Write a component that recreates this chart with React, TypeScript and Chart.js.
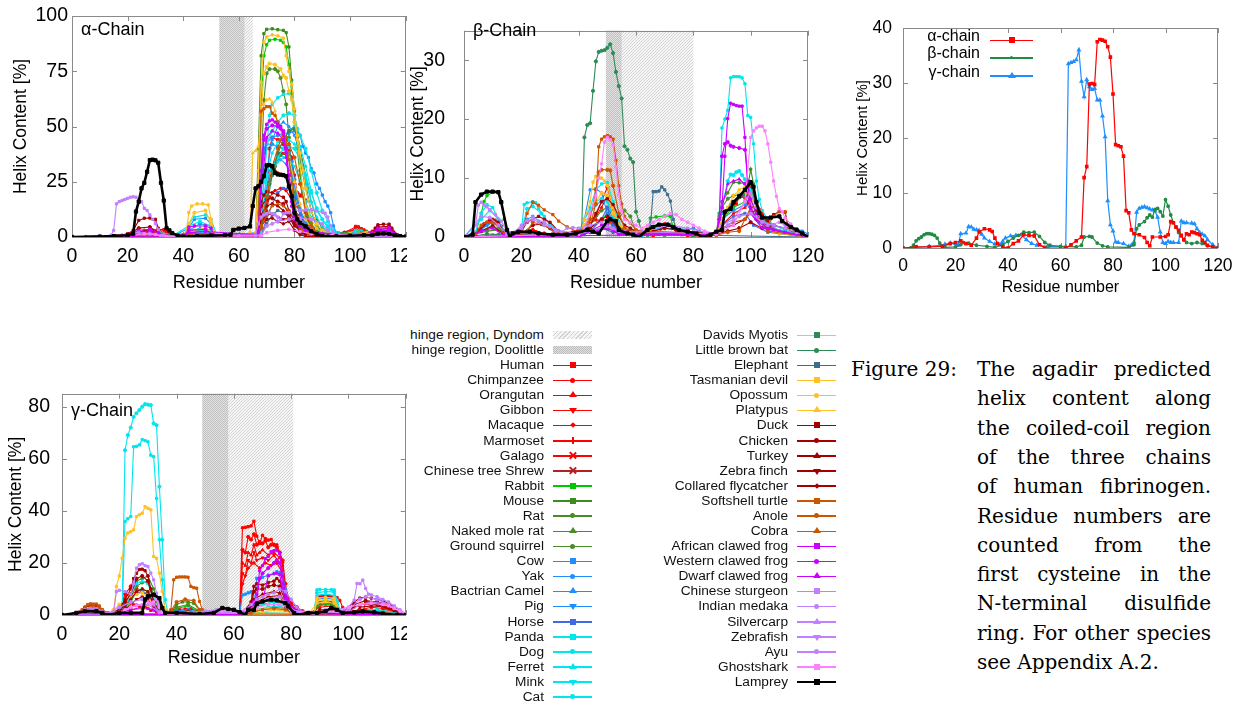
import React, { useEffect, useRef } from 'react';
import { Chart, registerables } from 'chart.js';
Chart.register(...registerables);

type Pt = [number, number];

// ---------------- Species, colours, markers ----------------
const speciesNames = [
  'Human', 'Chimpanzee', 'Orangutan', 'Gibbon', 'Macaque', 'Marmoset', 'Galago', 'Chinese tree Shrew',
  'Rabbit', 'Mouse', 'Rat', 'Naked mole rat', 'Ground squirrel', 'Cow', 'Yak', 'Bactrian Camel', 'Pig',
  'Horse', 'Panda', 'Dog', 'Ferret', 'Mink', 'Cat',
  'Davids Myotis', 'Little brown bat', 'Elephant', 'Tasmanian devil', 'Opossum', 'Platypus', 'Duck',
  'Chicken', 'Turkey', 'Zebra finch', 'Collared flycatcher', 'Softshell turtle', 'Anole', 'Cobra',
  'African clawed frog', 'Western clawed frog', 'Dwarf clawed frog', 'Chinese sturgeon', 'Indian medaka',
  'Silvercarp', 'Zebrafish', 'Ayu', 'Ghostshark', 'Lamprey',
];
const speciesColors = [
  '#ff0000', '#ff0000', '#ff0000', '#ff0000', '#ff0000', '#ff0000', '#ff0000', '#b22222',
  '#00c800', '#3c8c1e', '#4a8c2a', '#4a8c2a', '#4a8c2a', '#1e8fff', '#1e8fff', '#1e8fff', '#1e8fff',
  '#4169e1', '#00e5ee', '#00e5ee', '#00e5ee', '#00e5ee', '#00e5ee',
  '#2e8b57', '#2e8b57', '#3c6e8e', '#ffc125', '#ffc125', '#ffc125', '#a50000',
  '#a50000', '#a50000', '#a50000', '#a50000', '#cc5500', '#cc5500', '#cc5500',
  '#cc00ff', '#cc00ff', '#cc00ff', '#c080ff', '#c080ff',
  '#c080ff', '#c080ff', '#c080ff', '#ff80ff', '#000000',
];
const speciesLineColors = speciesColors.map((c, i) => (speciesNames[i] === 'Davids Myotis' ? '#9fd4b4' : c));
const speciesMarkers = [
  'rect', 'circle', 'triangle', 'triangleDown', 'rectRot', 'cross', 'crossRot', 'crossRot',
  'rect', 'rect', 'circle', 'triangle', 'circle', 'rect', 'circle', 'triangle', 'triangleDown',
  'rect', 'rect', 'circle', 'triangle', 'triangleDown', 'circle',
  'rect', 'circle', 'rect', 'rect', 'circle', 'triangle', 'rect',
  'circle', 'triangle', 'triangleDown', 'rectRot', 'rect', 'circle', 'triangle',
  'rect', 'circle', 'triangle', 'rect', 'circle',
  'triangle', 'triangleDown', 'circle', 'rect', 'rect',
];

// ---------------- Hinge regions (residue ranges) ----------------
const alphaHingeDyndom = [53, 65];
const alphaHingeDoolittle = [53, 62];
const betaHingeDyndom = [49.5, 80];
const betaHingeDoolittle = [49.5, 55];
const gammaHingeDyndom = [49, 80.7];
const gammaHingeDoolittle = [49, 58];

// ---------------- Human (also used in the combined panel) ----------------
const humanAlpha: Pt[] = [[0,0],[5,0.2],[10,0.2],[15,0.3],[18,0.8],[20,1.0],[22,1.3],[24,0.8],[26,0.5],[28,1.8],[29,2.9],[31,3.5],[33,3.3],[34,3.0],[35,1.8],[36,0.8],[38,0.2],[40,0],[42,0.8],[44,1.3],[46,2.4],[48,2.3],[50,2.2],[52,0.6],[54,0],[62,0],[64,0.6],[66,1.3],[68,2.0],[69,12.8],[70,14.8],[71,29.8],[72,29.9],[73,29.7],[74,37.5],[75,37.9],[76,37.8],[77,37.6],[78,36.6],[79,34.7],[80,28],[81,18.8],[82,18.6],[83,18.4],[84,16.7],[85,6.8],[86,6.4],[87,3.3],[88,2.6],[90,2.4],[92,1.9],[93,1.0],[94,0.4],[95,2.0],[98,2.0],[100,2.1],[101,2.4],[102,4.8],[103,4.6],[104,3.8],[105,3.2],[106,2.3],[107,1.5],[108,2.6],[109,2.4],[110,2.9],[111,2.8],[112,2.6],[113,2.4],[114,1.4],[115,1.0],[116,0.5],[118,0.2],[120,0]];
const humanBeta: Pt[] = [[0,0],[3,0],[4,0.5],[5,1.3],[6,1.7],[7,2.0],[8,2.4],[9,2.6],[10,2.6],[11,2.5],[12,2.3],[13,1.8],[14,0.9],[15,0.3],[16,0.1],[20,0.2],[22,0.6],[23,1.0],[25,0.9],[28,0.5],[32,0.3],[35,0.1],[38,0.6],[40,1.2],[42,1.8],[44,2.3],[46,2.9],[48,2.8],[50,2.9],[52,2.1],[54,1.0],[56,0.5],[60,0.3],[66,0.2],[68,0.5],[69,2.0],[71,2.1],[72,2.0],[74,0.9],[76,0.4],[78,0.2],[86,0.1],[88,0.6],[89,3.5],[90,4.2],[92,4.8],[93,5.5],[94,6.0],[95,5.6],[96,7.0],[97,7.2],[98,6.6],[99,5.8],[100,8.8],[101,7.6],[102,6.0],[103,4.6],[104,3.8],[105,2.8],[106,2.2],[107,1.5],[108,1.0],[110,0.8],[112,1.0],[114,0.8],[116,0.4],[118,0.1],[120,0]];
const humanGamma: Pt[] = [[0,0],[5,0.1],[10,0.3],[14,0.5],[16,0.7],[18,0.9],[20,0.8],[21,0.5],[22,2.6],[24,2.7],[25,3.9],[26,3.8],[27,3.4],[28,3.3],[29,3.2],[30,2.5],[31,1.8],[33,1.2],[35,0.7],[37,0.6],[38,1.2],[39,1.8],[41,2.2],[43,2.3],[45,2.4],[47,1.5],[49,0.8],[51,0.5],[55,0.3],[62,0.3],[63,33.5],[64,33.7],[65,33.9],[66,34.2],[67,36],[68,30.3],[69,27.5],[70,30.6],[71,29.3],[72,28.8],[73,29],[74,26.9],[75,26.9],[76,24],[77,20.2],[78,8.6],[79,4.2],[80,3.1],[81,1.1],[82,1.0],[84,0.8],[86,0.3],[87,0.5],[88,1.1],[89,6.5],[90,7.2],[91,7.4],[92,7.5],[93,7.3],[94,7.1],[95,6.9],[96,6.7],[97,5.6],[98,2.9],[99,1.0],[100,0.8],[101,1.2],[102,1.0],[103,1.0],[105,1.0],[106,4.9],[107,4.6],[108,4.6],[110,4.5],[111,4.4],[112,3.5],[113,2.8],[114,2.5],[115,2.2],[116,1.5],[118,0.6],[120,0]];

// ---------------- Alpha chain ----------------
const aChimp: Pt[] = [[0,0],[20,0.8],[24,1.2],[28,2.5],[31,3.2],[34,2.8],[36,0.8],[40,0.2],[43,1.2],[46,2.2],[50,2],[53,0.4],[63,0.2],[66,1.2],[68,2.2],[69,14],[70,18],[71,40],[72,45],[74,44],[76,42],[77,41],[78,39],[79,36],[80,24],[81,20],[83,19],[84,16],[85,7],[87,3],[90,2],[94,0.5],[98,2],[102,4.5],[106,2.2],[110,3],[114,1.5],[118,0.3],[120,0]];
const aOrangutan: Pt[] = [[0,0],[20,0.6],[26,0.8],[30,2.5],[34,2.4],[37,0.5],[44,1],[48,1.8],[52,0.4],[66,1],[68,1.8],[69,10],[70,12],[71,26],[72,28],[74,29],[76,28],[78,26],[79,20],[80,14],[82,13],[84,11],[85,5],[88,2],[92,1.5],[96,1.8],[102,3.5],[106,2],[110,2.4],[116,0.5],[120,0]];
const aMacaque: Pt[] = [[0,0],[24,0.6],[30,2],[34,1.8],[37,0.3],[46,1.5],[52,0.3],[67,1],[69,8],[71,18],[73,21],[75,22],[77,21],[79,17],[81,10],[83,8],[85,3],[90,1],[102,2.5],[110,2],[120,0]];
const aRabbit: Pt[] = [[0,0],[20,0.4],[26,1.2],[30,0.6],[36,0.2],[42,2],[46,3],[49,2.5],[52,0.4],[64,0.5],[67,2],[68,60],[69,82],[70,87],[71,89],[73,89.5],[75,89],[76,88],[77,86],[78,78],[79,65],[80,52],[81,40],[82,28],[84,14],[86,6],[88,3],[92,1.5],[100,2],[104,3],[108,1.5],[112,2],[116,0.6],[120,0]];
const aMouse: Pt[] = [[0,0],[10,0.2],[20,0.5],[25,1.0],[30,0.8],[35,0.3],[42,1.5],[45,2.5],[48,2.2],[52,0.5],[60,0.3],[64,0.6],[66,1.5],[67,40],[68,82],[69,92],[70,94],[72,94.2],[74,93.8],[76,93.5],[77,92.5],[78,86],[79,71],[80,57],[81,44],[82,30],[83,20],[84,9],[86,4],[88,2],[92,1],[96,0.8],[100,1.5],[104,2],[108,1.2],[112,2.4],[116,0.8],[120,0]];
const aRat: Pt[] = [[0,0],[22,0.6],[28,1],[34,0.4],[42,1.8],[47,2.6],[52,0.4],[66,1.2],[68,30],[69,62],[70,74],[71,76],[73,76],[74,75],[75,72],[76,66],[77,60],[78,45],[79,30],[80,17],[81,8],[83,4],[86,2],[90,1.2],[100,1.5],[104,2.5],[110,1.5],[116,0.4],[120,0]];
const aNakedMoleRat: Pt[] = [[0,0],[24,0.8],[30,1.2],[36,0.2],[44,2],[50,1.5],[54,0.3],[66,1],[68,8],[70,20],[72,30],[74,38],[76,44],[78,48],[80,50],[81,47],[82,40],[84,28],[86,16],[88,8],[90,4],[92,2],[100,1.8],[106,2.6],[112,1.4],[120,0]];
const aGroundSquirrel: Pt[] = [[0,0],[24,0.5],[30,0.8],[44,1.2],[48,1.5],[52,0.3],[67,1],[69,12],[71,24],[73,32],[75,37],[77,38],[78,36],[79,28],[80,20],[82,12],[84,6],[86,3],[90,1],[104,2],[112,1],[120,0]];
const aCow: Pt[] = [[0,0],[20,0.4],[28,0.8],[36,0.2],[42,4],[44,8],[48,8.5],[50,6],[52,0.8],[64,0.5],[67,1.5],[68,25],[69,40],[70,43],[72,45],[74,46],[76,47],[78,47],[80,48],[81,47],[82,46],[83,41],[84,38],[85,36],[86,31],[87,29],[88,24],[89,22],[90,19],[91,16],[92,14],[93,11],[94,5],[95,2],[98,1],[102,2],[108,1.5],[112,2.2],[116,0.5],[120,0]];
const aYak: Pt[] = [[0,0],[24,0.5],[40,0.3],[42,3],[46,6],[50,5],[52,0.5],[67,1],[68,20],[69,38],[70,42],[72,42],[74,41],[76,40],[78,38],[79,34],[80,26],[81,18],[82,12],[84,6],[86,3],[90,1],[104,1.5],[120,0]];
const aCamel: Pt[] = [[0,0],[40,0.2],[42,2],[46,4],[50,3],[53,0.4],[68,2],[70,30],[72,44],[74,50],[76,52],[78,50],[80,46],[82,38],[84,24],[86,12],[88,5],[90,2],[96,0.8],[104,1.8],[120,0]];
const aPig: Pt[] = [[0,0],[42,0.2],[44,1.5],[48,2],[52,0.3],[68,2],[69,15],[71,30],[73,34],[75,35],[77,33],[79,28],[81,18],[83,9],[85,4],[88,1.5],[100,1],[120,0]];
const aHorse: Pt[] = [[0,0],[42,0.2],[44,1],[50,1],[68,1],[70,8],[72,15],[74,20],[76,22],[78,22],[80,18],[82,10],[84,4],[87,1.5],[100,1],[120,0]];
const aPanda: Pt[] = [[0,0],[20,0.6],[28,1.5],[32,2],[34,0.8],[40,0.2],[42,6],[44,9],[48,10],[50,8],[52,1],[66,0.5],[68,10],[70,40],[71,55],[72,60],[74,63],[76,64.5],[78,65],[79,63],[80,50],[82,41],[84,32],[86,21],[88,12],[90,8],[92,5],[94,2],[98,1],[102,3],[106,1.5],[112,2],[120,0]];
const aDog: Pt[] = [[0,0],[26,0.8],[32,2.2],[36,0.5],[42,5],[46,7],[50,5],[52,0.6],[67,1],[69,25],[70,42],[72,48],[74,52],[76,55],[78,56],[80,55],[81,49],[82,46],[84,40],[86,30],[88,20],[90,12],[92,7],[94,3],[98,1],[104,2.5],[110,1.5],[120,0]];
const aFerret: Pt[] = [[0,0],[40,0.3],[42,3],[48,4],[52,0.5],[68,2],[70,28],[72,38],[74,43],[76,45],[78,44],[80,42],[82,36],[84,26],[86,16],[88,9],[90,5],[92,2],[100,1],[120,0]];
const aMink: Pt[] = [[0,0],[42,0.2],[44,2],[50,2],[68,1],[70,20],[72,30],[74,34],[76,36],[78,35],[80,32],[82,25],[84,16],[86,9],[89,4],[92,1],[120,0]];
const aCat: Pt[] = [[0,0],[40,0.3],[42,2.5],[48,3],[52,0.4],[68,1.5],[70,26],[72,32],[74,36],[76,40],[78,41],[80,40],[82,35],[84,28],[86,20],[88,13],[90,8],[92,4],[95,1],[120,0]];
const aBat: Pt[] = [[0,0],[24,0.4],[44,1.5],[50,1.2],[66,0.6],[68,4],[70,14],[72,28],[74,38],[76,44],[78,48],[80,49],[81,45],[82,35],[84,22],[86,12],[88,5],[90,2],[96,1],[104,1.8],[120,0]];
const aElephant: Pt[] = [[0,0],[40,0.2],[44,1],[50,1],[68,0.5],[70,6],[72,10],[74,12],[76,11],[78,9],[80,5],[83,1.5],[90,0.5],[120,0]];
const aTasDevil: Pt[] = [[0,0],[24,0.5],[30,0.8],[36,0.2],[41,1],[42,11],[43,14],[45,15],[47,15],[49,14.5],[50,8],[51,2],[54,0.5],[64,0.5],[66,2],[67,30],[68,70],[69,88],[70,90.5],[72,91.5],[74,91],[76,90],[77,82],[78,75],[79,69],[80,58],[81,44],[82,32],[83,22],[84,14],[86,8],[88,4],[90,2],[94,1],[100,1.5],[106,2],[112,2.2],[116,0.6],[120,0]];
const aOpossum: Pt[] = [[0,0],[26,0.6],[34,0.5],[40,0.4],[42,6],[44,11],[48,12],[50,6],[52,0.8],[66,1.5],[67,20],[68,55],[69,74],[70,77],[71,78.5],[73,78],[75,76],[76,73],[77,72],[78,66],[79,62],[80,52],[81,46],[82,38],[83,30],[84,22],[86,12],[88,6],[90,3],[94,1],[104,1.5],[120,0]];
const aPlatypus: Pt[] = [[0,0],[40,0.3],[44,3],[48,4],[52,0.6],[62,0.6],[64,2],[65,38],[66,39],[67,41],[68,52],[69,60],[70,62],[71,62.5],[72,61],[73,57],[74,52],[76,45],[78,36],[80,25],[82,15],[84,8],[86,4],[88,2],[92,1],[100,1],[120,0]];
const aDuck: Pt[] = [[0,0],[16,0.5],[20,1.5],[22,3],[24,7.5],[26,8.5],[28,8.6],[30,8],[31,4],[33,1],[36,0.3],[44,1],[50,0.8],[66,0.5],[67,4],[68,16],[69,19],[70,20.5],[72,20],[74,19],[76,18],[77,16],[78,12],[80,7],[82,4],[84,2],[88,1],[96,0.6],[104,1.2],[108,2],[109,4],[110,5.5],[112,5.8],[114,5.8],[115,4],[117,1],[120,0]];
const aChicken: Pt[] = [[0,0],[20,1],[24,4],[28,4.5],[31,2],[34,0.4],[66,0.5],[67,3],[68,14],[70,17],[72,17.5],[74,16],[76,15],[78,10],[80,6],[82,3],[86,1],[108,1.5],[110,4.5],[114,4.8],[116,1.5],[120,0]];
const aTurkey: Pt[] = [[0,0],[22,0.8],[26,3],[30,2.5],[33,0.5],[67,1],[68,10],[70,14],[72,15],[74,14],[76,12],[78,9],[80,5],[83,2],[88,0.5],[108,0.5],[110,3.5],[114,3.8],[117,0.8],[120,0]];
const aZebraFinch: Pt[] = [[0,0],[22,0.3],[24,2],[28,2.5],[32,0.5],[67,0.8],[68,7],[70,10],[72,10.5],[74,9],[76,8],[78,8.5],[80,7],[82,3],[84,1],[90,0.2],[108,0.3],[110,2.5],[114,2.8],[117,0.5],[120,0]];
const aFlycatcher: Pt[] = [[0,0],[66,0.3],[68,5],[70,8],[72,8.5],[74,7],[76,6],[78,7],[80,3],[82,1],[84,0.3],[120,0]];
const aSoftshell: Pt[] = [[0,0],[20,0.6],[24,1.5],[28,1.2],[32,0.4],[44,1.5],[50,1.2],[66,0.5],[67,6],[68,57],[69,58],[70,59],[71,59],[72,56],[73,55],[74,52],[75,50],[76,46],[77,44],[78,35],[79,24],[80,14],[81,6.5],[83,3],[86,1.5],[90,0.6],[100,1],[110,1.5],[120,0]];
const aAnole: Pt[] = [[0,0],[44,1],[50,1],[66,0.5],[68,5],[70,18],[72,32],[74,40],[75,44],[76,46],[77,45],[78,42],[80,36],[82,24],[84,12],[86,5],[88,2],[94,0.5],[120,0]];
const aCobra: Pt[] = [[0,0],[66,0.4],[68,4],[70,10],[72,14],[74,15],[76,14],[78,12],[80,8],[82,4],[85,1],[120,0]];
const aXenLaevis: Pt[] = [[0,0],[20,1],[24,3],[28,3.5],[31,2],[34,0.4],[41,1],[42,4.5],[44,5],[48,5],[50,4],[51,1],[54,0.5],[66,0.5],[67,2],[68,30],[69,46],[70,51],[71,52.5],[72,53],[73,52],[74,51],[75,50],[76,47],[77,38],[78,24],[79,14],[80,8],[82,5],[84,3],[88,1.5],[92,1],[96,0.8],[104,1.2],[108,2],[110,4],[114,4.2],[116,1.5],[120,0]];
const aXenTrop: Pt[] = [[0,0],[22,0.3],[24,2],[28,2.5],[32,0.5],[40,0.3],[42,3],[48,3.5],[51,0.5],[67,1.5],[68,25],[69,44],[70,49],[72,50.5],[74,50],[75,49],[76,48],[77,40],[78,28],[79,16],[80,9],[82,6],[86,3],[90,1.5],[108,0.5],[110,3],[114,3],[117,0.5],[120,0]];
const aDwarfFrog: Pt[] = [[0,0],[40,0.2],[42,2],[48,2.5],[67,1],[68,20],[70,45],[72,48],[74,47],[76,44],[77,36],[78,25],[80,10],[82,5],[86,2],[120,0]];
const aSturgeon: Pt[] = [[0,0],[10,0.4],[14,0.8],[15,3],[16,15],[17,16],[18,16.5],[19,17],[20,17.5],[21,18],[22,18.2],[23,18],[24,17],[25,16],[26,13],[27,12],[28,10],[29,8],[30,6],[31,3.5],[33,1],[36,0.3],[44,0.5],[50,0.6],[60,0.6],[66,0.8],[67,6],[68,9],[69,10],[70,10.5],[71,11],[72,10.5],[73,10],[74,9],[75,8],[76,10.5],[77,11],[78,11],[80,11.5],[82,12],[84,12.3],[86,12.3],[88,11.8],[90,11.2],[91,10.8],[92,9],[93,5],[94,2],[96,1],[100,1],[110,1.5],[120,0]];
const aMedaka: Pt[] = [[0,0],[20,1],[24,2],[28,1.5],[32,0.5],[68,1],[70,5],[72,6],[74,7],[78,8],[82,8.5],[86,8],[90,6],[92,3],[95,0.5],[120,0]];
const aGhostshark: Pt[] = [[0,0],[20,0.5],[26,1.5],[30,1.2],[34,0.2],[68,0.5],[70,2],[74,3],[78,3.5],[82,2.5],[86,1.5],[90,1],[110,1.5],[114,2],[118,0.5],[120,0]];
const aLamprey: Pt[] = [[0,0],[10,0.2],[15,0.4],[20,0.8],[22,1.5],[23,11.5],[24,16],[25,22],[26,24.5],[27,29.5],[28,34.8],[29,35],[30,34.7],[31,33.6],[32,24.5],[33,16.5],[34,4],[35,3],[36,1.8],[38,0.6],[40,0.2],[45,0.4],[50,0.6],[55,0.8],[57,1.0],[58,3.2],[60,3.8],[62,4.1],[64,4.8],[65,14],[66,22],[67,22.9],[68,25],[69,27.5],[70,32.4],[71,32.5],[72,32],[73,29],[74,28.3],[75,28.2],[76,28],[77,27.5],[78,22.9],[79,18.4],[80,11],[81,8],[82,6.5],[84,4.8],[86,2.6],[88,1.2],[90,0.6],[92,0.2],[95,0.3],[100,0.6],[105,0.8],[108,0.8],[110,1.5],[112,1.6],[114,1.5],[116,0.8],[118,0.4],[120,0.2]];

// ---------------- Beta chain ----------------
const bChimp: Pt[] = [[0,0],[4,0.6],[7,2.2],[9,3],[11,2.8],[13,1.8],[15,0.3],[20,0.3],[24,1.2],[28,0.6],[34,0.2],[38,0.8],[42,2],[46,3.6],[48,6],[50,8.5],[52,5],[54,2],[57,0.8],[62,0.3],[68,0.6],[70,2.2],[72,2],[75,0.5],[80,0.2],[88,0.6],[90,3],[94,5.5],[97,7],[100,8],[102,6],[104,4],[107,2],[110,1],[114,0.8],[118,0.2],[120,0]];
const bOrangutan: Pt[] = [[0,0],[6,1.5],[10,2.5],[14,1],[16,0.2],[40,0.5],[44,2],[48,5],[50,7],[52,4],[55,1],[60,0.3],[88,0.4],[90,2],[94,4],[98,5],[100,6],[103,3],[108,1],[120,0]];
const bRabbit: Pt[] = [[0,0],[4,0.5],[6,4],[7,6],[8,7],[10,7.6],[12,7.7],[13,6],[14,3],[15,0.6],[18,0.2],[30,0.2],[40,0.3],[44,1],[48,3],[50,4],[53,2],[56,0.8],[62,0.3],[64,0.6],[65,3.2],[67,3.4],[70,3.6],[72,3.5],[73,1.5],[75,0.5],[88,0.5],[90,3],[94,5],[98,6],[100,6.5],[102,4],[106,2],[110,1],[120,0]];
const bMouse: Pt[] = [[0,0],[6,1],[10,2],[14,0.5],[40,0.3],[44,1.5],[48,3],[52,2],[56,0.5],[88,0.5],[89,4],[90,6],[92,7.5],[94,9.3],[96,9.2],[98,9.1],[99,8.5],[100,11.5],[101,9],[102,6],[104,3],[106,1.5],[110,0.8],[120,0]];
const bRat: Pt[] = [[0,0],[8,1],[12,1.2],[16,0.3],[40,0.3],[44,2],[48,4.5],[50,5],[53,2.5],[56,4.5],[58,3.5],[60,1],[88,0.5],[90,5],[92,6.5],[94,7],[96,7.2],[98,7.5],[100,8],[102,5],[105,2],[110,0.6],[120,0]];
const bCow: Pt[] = [[0,0],[4,0.5],[8,2],[10,2.5],[12,2],[14,0.6],[20,0.5],[22,3],[24,3.5],[28,2],[32,0.6],[40,0.5],[42,3],[44,8],[46,8.2],[48,7.5],[50,4],[52,2],[54,0.5],[62,0.3],[64,1.2],[70,1.5],[78,1.3],[80,1.5],[82,1],[84,0.5],[88,0.5],[90,4],[92,5],[94,6],[96,7],[98,7.5],[100,6],[102,4],[104,2.5],[108,2],[112,1.5],[116,1.4],[118,1],[120,0.5]];
const bYak: Pt[] = [[0,0],[10,0.3],[40,0.3],[42,1.5],[44,4],[46,5.5],[48,6],[50,6.2],[52,3],[54,1],[60,0.4],[88,0.5],[90,3],[94,4.5],[98,5.5],[100,5],[103,2.5],[108,1],[120,0]];
const bHorse: Pt[] = [[0,0],[40,0.2],[42,0.4],[44,1],[48,3],[50,5],[52,2],[55,0.5],[88,0.4],[90,2],[94,3.5],[98,4],[101,2],[106,0.8],[120,0]];
const bPanda: Pt[] = [[0,0],[4,0.8],[6,4],[8,5.5],[10,5],[12,3],[14,1],[16,0.3],[20,1],[21,5.5],[22,5.8],[24,6],[25,5.8],[26,4.8],[28,3.5],[30,2],[34,0.8],[40,0.8],[44,5],[46,8],[48,9],[50,9.2],[52,6],[54,2.5],[56,1],[60,0.5],[88,0.6],[89,3],[90,18.5],[91,20],[92,21.5],[93,27],[94,27.2],[95,27.2],[96,27.2],[97,27],[98,26],[99,20.6],[100,20.3],[101,15.8],[102,9.5],[103,6.4],[104,4.5],[106,3],[108,2],[112,1.2],[116,0.6],[120,0]];
const bDog: Pt[] = [[0,0],[6,3],[9,4.5],[12,3],[14,1],[20,0.8],[22,4.8],[24,5.2],[27,4],[30,2],[34,0.5],[40,0.4],[42,3],[46,6],[48,6.5],[50,6],[52,3.5],[55,1],[88,0.6],[90,5],[92,9.5],[93,10.6],[94,10.5],[95,11],[96,11.2],[97,10.5],[98,9.8],[100,8],[102,5],[104,3],[108,1.5],[112,1],[120,0]];
const bBat: Pt[] = [[0,0],[4,0.2],[8,0.5],[12,0.4],[20,0.2],[30,0.2],[40,0.2],[41,0.4],[42,16.9],[43,19],[44,19.3],[45,24.8],[46,29.8],[47,31.4],[48,31.6],[49,31.7],[50,32.1],[51,32.7],[52,31.2],[53,28],[54,25.6],[55,23.5],[56,15.4],[57,14.8],[58,13.3],[59,12.7],[60,4.3],[61,2.7],[62,0.6],[64,0.3],[70,0.3],[80,0.2],[88,0.3],[90,3],[94,6],[98,7],[100,9],[102,5],[106,2],[110,0.8],[120,0]];
const bElephant: Pt[] = [[0,0],[40,0.2],[44,1],[48,1.5],[52,0.8],[60,0.5],[64,1],[65,1.6],[66,7.7],[67,7.7],[68,7.8],[69,8.5],[70,8],[71,7.2],[72,6.1],[73,3],[74,1.4],[76,0.6],[84,0.3],[120,0]];
const bTasDevil: Pt[] = [[0,0],[40,0.5],[41,1],[42,3],[44,6],[45,9.3],[46,10.3],[47,10.2],[48,10],[49,9.5],[50,8.7],[52,5],[54,2],[56,1],[60,1],[64,1.5],[66,1.2],[70,0.8],[88,0.5],[90,3],[92,5],[94,7],[96,8],[98,8.5],[100,7],[102,4],[106,1.5],[110,0.6],[120,0]];
const bOpossum: Pt[] = [[0,0],[40,0.3],[42,2],[44,4],[46,6],[48,7.5],[50,7],[52,4],[55,1.5],[60,1.2],[65,1],[88,0.5],[90,2.5],[92,4.5],[94,6],[96,7.2],[98,7.8],[100,6],[103,3],[108,1],[120,0]];
const bDuck: Pt[] = [[0,0],[4,0.5],[8,2.5],[10,3],[12,2.5],[14,0.8],[16,0.3],[20,1],[22,2.5],[24,3],[26,3.5],[28,3],[30,2.5],[33,1],[36,0.5],[40,0.3],[44,2],[46,4],[48,6],[50,6.5],[52,5.5],[54,3.5],[56,2],[58,1.5],[60,1],[62,0.8],[66,1],[70,1.5],[74,1.2],[80,0.8],[88,0.5],[90,1.5],[94,2],[98,3],[100,4.2],[102,4.5],[104,3.5],[106,2.8],[108,3.8],[110,4.3],[112,4.2],[113,2],[116,0.6],[120,0]];
const bChicken: Pt[] = [[0,0],[6,1],[10,1.8],[14,0.5],[20,0.5],[24,2],[27,2.2],[30,1.5],[34,0.5],[44,1.5],[48,3],[50,3.5],[54,1.5],[58,1],[88,0.5],[92,1],[96,1.5],[100,2.5],[104,1.5],[108,2],[112,1.5],[120,0]];
const bSoftshell: Pt[] = [[0,0],[4,0.5],[6,2],[8,2.5],[10,2.6],[12,1.8],[14,0.5],[20,0.6],[22,4],[24,5.9],[26,5.4],[28,4.6],[31,3.8],[33,2.7],[36,1.7],[40,0.8],[44,2],[46,5.6],[47,15.3],[48,16.6],[49,17],[50,17.2],[51,17],[52,16.6],[53,13],[54,8.7],[55,5.6],[56,3.5],[58,2.4],[60,1.2],[64,0.8],[70,0.6],[88,0.4],[90,1.5],[94,2.5],[98,3],[100,4],[102,3],[106,2],[108,3.5],[110,4.4],[112,4.3],[113,1.5],[116,0.4],[120,0]];
const bAnole: Pt[] = [[0,0],[20,0.3],[22,1],[24,2.5],[28,2],[32,0.8],[40,0.5],[44,3],[46,8],[47,11],[48,11.4],[50,11.4],[51,11.3],[52,8.7],[54,4],[56,1.5],[60,0.8],[88,0.3],[92,0.8],[96,1],[100,5],[102,3],[106,1],[120,0]];
const bXenLaevis: Pt[] = [[0,0],[6,1],[10,1.5],[14,0.3],[40,0.3],[44,1],[48,2],[50,2],[54,0.5],[88,0.5],[90,5],[91,13.7],[92,20.1],[93,22.7],[94,22.5],[95,22.3],[96,22.2],[97,22.2],[98,16.9],[99,8.5],[100,6.4],[102,4],[104,2.5],[108,1.2],[112,0.8],[120,0]];
const bXenTrop: Pt[] = [[0,0],[40,0.2],[44,0.8],[50,1.5],[54,0.5],[88,0.5],[89,3],[90,13.7],[91,15.8],[92,16.1],[93,15.5],[94,15.3],[96,15.1],[98,14.8],[99,9.5],[100,5],[102,3],[106,1.5],[120,0]];
const bDwarfFrog: Pt[] = [[0,0],[88,0.5],[90,5],[92,9],[94,9.5],[96,9.8],[98,9],[99,7],[100,4],[104,1.5],[120,0]];
const bSturgeon: Pt[] = [[0,0],[2,0.3],[4,2],[5,5.4],[6,5.9],[7,5.4],[8,5.1],[9,4.6],[11,3.8],[13,2.7],[15,1],[17,0.5],[20,2],[22,2.8],[24,3],[26,2.5],[28,2],[30,1.8],[32,1],[34,0.8],[36,1.5],[38,1.6],[40,1.5],[44,2],[48,2.5],[52,1.5],[56,1],[60,0.8],[66,1.5],[72,2],[78,1.5],[84,0.8],[88,0.6],[90,2],[94,3],[98,6],[100,7.5],[102,5],[104,3],[106,2],[110,2.5],[112,2],[116,1],[120,0]];
const bMedaka: Pt[] = [[0,0],[6,3.5],[9,3.3],[12,2],[15,0.5],[20,1.5],[24,3.3],[28,2.5],[32,1.2],[40,0.5],[44,1],[48,1.5],[50,1.8],[54,1],[88,0.5],[92,2],[96,3.5],[100,4],[104,2.5],[108,2],[112,1.5],[116,0.8],[120,0]];
const bGhostshark: Pt[] = [[0,0],[40,0.5],[42,1.5],[44,4],[46,7],[47,10],[48,12.4],[49,16.1],[50,16.9],[51,16.5],[52,15.6],[53,11.9],[54,7.2],[55,4.5],[56,3],[58,2.5],[60,2],[62,1.5],[64,2],[66,2.5],[68,3],[70,3.5],[72,4],[74,3.8],[76,3],[78,2.5],[80,2],[82,1.5],[84,1],[88,0.5],[94,2],[98,6],[100,16.9],[101,18],[102,18.5],[103,18.8],[104,18.8],[105,18],[106,15.8],[107,12.7],[108,9.5],[109,6.9],[110,4.8],[111,4.3],[112,3.2],[114,2.2],[116,1.1],[118,0.6],[120,0]];
const bLamprey: Pt[] = [[0,0],[3,0.4],[4,5.9],[6,7.2],[8,7.7],[10,7.7],[12,7.6],[13,5.9],[15,1.2],[16,0],[17,0.6],[19,0.9],[23,0.9],[26,0.6],[31,0.4],[36,0.4],[39,0.6],[43,1.2],[45,0.9],[47,0.6],[50,2.7],[51,3],[53,2.7],[54,1.2],[57,0.6],[59,0.4],[61,0],[64,1.2],[66,1.7],[68,2.1],[71,2.1],[73,1.7],[75,1.2],[78,0.9],[81,0.6],[83,0],[86,0.4],[88,0.9],[90,1.2],[91,4.3],[93,4.8],[94,5.9],[96,6.9],[98,8],[100,9.3],[101,8.5],[102,5.9],[103,4.1],[104,3.3],[107,3.3],[110,3.5],[111,2.7],[114,1.7],[116,1.2],[118,0.6],[120,0]];

// ---------------- Gamma chain ----------------
const gChimp: Pt[] = [[0,0],[6,0.5],[10,1],[14,0.8],[18,0.5],[20,2],[22,8],[24,11],[26,10],[28,9],[30,8],[32,5],[34,2],[36,0.5],[40,0.5],[44,1],[48,0.5],[56,0.5],[62,0.5],[63,25],[64,24],[65,30],[66,29],[67,31],[68,27],[69,28],[70,27.5],[71,28.5],[72,26],[73,27],[74,27],[75,26],[76,24],[77,21],[78,12],[79,6],[80,4.5],[82,3],[84,1.5],[86,0.5],[88,1],[90,4],[94,4.5],[96,3.5],[98,1],[104,2],[108,3],[112,2.5],[116,1],[120,0]];
const gOrangutan: Pt[] = [[0,0],[8,1],[12,1],[20,1],[22,7],[26,9],[30,8],[32,4],[34,1],[62,0.5],[63,20],[64,19],[65,24],[66,23],[67,27],[68,23],[69,24],[70,25],[72,23],[74,24],[76,22],[77,19],[78,10],[80,4],[82,2],[86,0.5],[90,3],[94,3.5],[98,0.8],[106,2],[112,1.5],[120,0]];
const gGibbon: Pt[] = [[0,0],[62,0.5],[63,16],[64,15],[65,21],[66,20],[67,24],[68,21],[70,22],[72,21],[74,23],[76,20],[77,17],[78,8],[80,3],[84,1],[120,0]];
const gMacaque: Pt[] = [[0,0],[62,0.3],[63,12],[65,18],[67,20],[69,18],[71,20],[73,19],[75,20],[77,16],[78,7],[80,3],[84,0.8],[120,0]];
const gRabbit: Pt[] = [[0,0],[20,0.3],[22,2],[24,5],[26,9],[28,10],[30,9],[32,5],[34,1],[36,0.3],[38,0.5],[40,2.5],[44,3.5],[48,1],[88,0.5],[89,3.5],[92,4],[95,3.8],[97,1],[120,0]];
const gMouse: Pt[] = [[0,0],[20,1],[22,4],[24,8],[26,13],[28,14],[30,15],[32,10],[34,3],[36,0.5],[38,1],[40,4],[42,5],[44,5],[46,4.5],[48,2],[50,0.5],[60,0.5],[64,1],[68,3],[70,4],[74,5],[78,4],[80,2],[86,0.5],[88,1],[89,5],[92,5.5],[95,5],[97,1.5],[100,1],[110,2],[116,1],[120,0]];
const gRat: Pt[] = [[0,0],[20,0.3],[22,3],[24,7],[26,11],[28,12.5],[30,13],[32,8],[34,2],[36,0.5],[38,0.6],[40,3],[44,4],[48,1.5],[50,0.5],[66,0.5],[68,2],[74,3],[78,2.5],[80,1],[88,0.5],[89,4],[94,4.5],[97,1],[120,0]];
const gCow: Pt[] = [[0,0],[8,0.5],[20,1],[22,4],[24,7],[26,8],[28,9],[30,8],[32,4],[34,1],[40,1.5],[44,2],[48,1],[62,0.5],[63,7.7],[64,8],[65,8.5],[66,8.9],[67,3],[68,14.1],[70,14.5],[72,15.3],[74,15.8],[75,16.6],[76,16.3],[77,16],[78,9.9],[79,5],[80,3],[82,1],[86,0.5],[88,1],[89,6],[92,6.5],[95,6],[97,2],[100,1],[110,1.5],[120,0]];
const gPanda: Pt[] = [[0,0],[10,0.5],[18,0.5],[20,0.8],[21,1],[22,35.9],[23,37],[24,37.8],[25,64.6],[26,64.8],[27,65.3],[28,67.4],[29,67],[30,66.5],[31,61.4],[32,60.8],[33,44.8],[34,28.9],[35,13.5],[36,0.8],[38,0.5],[40,1],[44,1.5],[48,0.5],[60,0.5],[66,2],[70,4],[74,5],[78,4],[80,1],[88,1],[89,9.6],[90,9.8],[92,9.8],[94,9.7],[95,9.6],[96,5.7],[97,2],[100,1],[110,2],[116,1],[120,0]];
const gDog: Pt[] = [[0,0],[10,0.3],[20,0.5],[21,0.8],[22,63.3],[23,69.1],[24,72],[25,76.1],[26,77.5],[27,78.7],[28,80],[29,81],[30,80.8],[31,80.6],[32,73.6],[33,72.9],[34,49.3],[35,28.9],[36,5.9],[37,0.5],[40,0.5],[48,0.5],[60,0.5],[66,1.5],[72,3],[76,3.5],[80,1],[88,0.8],[89,8.5],[92,9],[95,8.8],[96,5],[97,1.5],[120,0]];
const gFerret: Pt[] = [[0,0],[20,0.3],[22,3],[24,8],[26,12],[28,13],[30,12],[32,6],[34,1],[40,1],[88,0.5],[89,7.5],[92,8],[95,7.5],[97,1.5],[120,0]];
const gTasDevil: Pt[] = [[0,0],[8,0.5],[14,0.6],[18,1],[19,11],[20,15],[21,21.8],[22,29.5],[23,31.5],[24,32],[25,32.7],[26,37.8],[27,38.5],[28,39.1],[29,41.6],[30,41],[31,40.4],[32,22.5],[33,21.8],[34,16.1],[35,9.1],[36,2],[38,0.5],[44,1],[48,0.5],[64,1],[68,2],[72,2.5],[76,2],[80,0.8],[88,0.6],[89,6.5],[92,6.8],[95,6.5],[97,1.5],[120,0]];
const gOpossum: Pt[] = [[0,0],[16,0.5],[18,2],[20,4],[22,6],[24,7],[26,8],[28,8.5],[30,7],[32,4],[34,1],[40,0.5],[88,0.5],[89,5.5],[92,6],[95,5.5],[97,1],[120,0]];
const gPlatypus: Pt[] = [[0,0],[20,1],[24,3],[28,4],[32,3],[34,1],[68,0.5],[70,1],[74,2],[78,1.5],[86,0.3],[89,4.5],[92,5],[95,4.5],[97,1],[120,0]];
const gDuck: Pt[] = [[0,0],[6,1],[8,3],[10,3.5],[12,3.5],[14,2],[16,0.5],[20,2],[22,6],[24,10],[25,14],[26,16],[27,17.5],[28,17.6],[29,17],[30,15],[31,10],[32,5],[34,1],[36,0.5],[40,1],[44,1.5],[50,0.5],[62,0.5],[64,2],[66,5],[67,11],[68,12],[70,11.5],[72,12.5],[74,13],[75,14],[76,13],[77,10],[78,6],[80,3],[84,1],[88,0.5],[90,2],[94,2],[98,1],[102,5],[104,6.5],[106,6.8],[108,6.5],[110,6],[112,5.5],[114,4.5],[116,3],[118,1.5],[120,0]];
const gChicken: Pt[] = [[0,0],[6,0.5],[8,2],[12,2.5],[16,0.5],[20,0.5],[22,5],[24,8],[26,14],[28,15],[30,13],[32,5],[34,1],[62,0.5],[66,3],[67,9],[68,10],[70,10],[72,11],[74,11.5],[76,11],[78,5],[80,2],[84,0.5],[100,0.5],[102,4],[106,5.5],[110,5],[114,4],[118,1],[120,0]];
const gTurkey: Pt[] = [[0,0],[20,0.3],[22,3],[24,6],[26,9],[28,10],[30,9],[32,4],[34,1],[64,1],[67,6],[70,8],[74,9],[76,8.5],[78,4],[80,1.5],[100,0.5],[102,3],[106,4.5],[110,4],[116,1.5],[120,0]];
const gZebraFinch: Pt[] = [[0,0],[20,0.2],[22,2],[26,6],[28,7],[30,6],[32,3],[34,0.5],[64,0.3],[66,1],[68,5],[72,7],[76,7.5],[78,3],[80,1],[102,0.5],[104,3],[108,3.5],[114,3],[118,0.8],[120,0]];
const gSoftshell: Pt[] = [[0,0],[4,0.5],[7,2],[8,3],[9,4],[10,4.3],[11,4.2],[12,4.2],[13,3.5],[14,2],[16,0.8],[20,1],[24,2],[28,2.5],[32,2],[34,1],[36,0.5],[37,1],[38,2],[39,13.5],[40,14.5],[41,14.6],[42,14.6],[43,14.6],[44,14.5],[45,11],[46,10.5],[47,10.3],[48,5.2],[49,2],[50,0.5],[60,0.5],[66,1],[70,2],[74,2.5],[78,2],[80,1],[88,0.5],[92,1.5],[96,1],[100,1],[106,1.5],[112,1],[120,0]];
const gAnole: Pt[] = [[0,0],[6,1],[10,3],[13,3],[16,0.5],[36,0.5],[38,1.5],[40,5],[43,6],[46,5.5],[48,2],[50,0.5],[120,0]];
const gXenLaevis: Pt[] = [[0,0],[20,1],[24,2],[28,3],[32,2],[34,0.5],[60,0.5],[64,1],[66,4],[67,5],[68,8],[69,17],[70,19],[71,21.7],[72,22.5],[73,24.3],[74,24.7],[75,24.9],[76,23.6],[77,14.7],[78,8.3],[79,5.7],[80,3],[84,1],[88,0.5],[92,1],[96,0.8],[120,0]];
const gXenTrop: Pt[] = [[0,0],[64,0.3],[66,2],[68,6],[69,14],[70,16],[72,18],[74,20],[75,21],[76,20],[77,12],[78,6],[80,2],[84,0.5],[120,0]];
const gDwarfFrog: Pt[] = [[0,0],[64,0.5],[66,2],[68,4],[70,5],[72,15],[74,16],[75,16],[76,15.5],[77,10],[78,4],[80,1.5],[120,0]];
const gSturgeon: Pt[] = [[0,0],[6,1],[8,2],[10,2.5],[12,2.5],[14,1.5],[16,0.5],[18,1],[19,9],[20,9.5],[22,9],[24,8],[25,12],[26,18],[27,19.3],[28,19.7],[29,19],[30,18.6],[31,16.1],[32,13.5],[33,8.4],[34,4],[35,1],[37,0.5],[40,1],[44,1],[50,1.5],[54,2],[58,1.5],[62,1],[64,2],[66,4],[68,6],[70,7],[72,8],[74,8.5],[76,10],[78,9],[80,6],[82,3],[84,1],[88,0.5],[92,2],[96,2],[100,3],[102,5.7],[103,12.1],[104,12],[105,13.4],[106,10.2],[107,8],[108,7.7],[110,7],[112,6],[114,5],[116,3.5],[118,2],[120,0.5]];
const gMedaka: Pt[] = [[0,0],[8,1.5],[12,1.5],[16,0.5],[20,3],[24,5],[28,6],[32,4],[34,1],[64,1],[68,4],[72,6],[76,7],[78,5],[80,2],[88,0.5],[92,1],[100,2],[104,6],[106,7],[110,6],[114,4],[118,1.5],[120,0]];
const gSilvercarp: Pt[] = [[0,0],[20,0.2],[22,2],[26,4],[30,4],[34,1],[64,0.5],[66,2],[70,5],[74,6],[78,4],[80,1],[100,1],[104,4],[108,5],[112,4.5],[116,2.5],[120,0.5]];
const gGhostshark: Pt[] = [[0,0],[8,1],[12,1.5],[16,0.5],[20,1],[22,2],[24,3],[26,3.5],[28,4],[29,5],[30,5],[31,4.5],[32,5],[33,6],[34,3],[35,1],[36,0.2],[40,0.2],[48,0.5],[56,1.5],[60,1.5],[64,2],[68,3],[72,4],[76,4],[80,2],[84,1],[88,0.8],[92,1.5],[96,1.5],[100,3],[104,4],[108,4.5],[112,4],[114,3.5],[116,2.5],[118,1.5],[120,0.5]];
const gLamprey: Pt[] = [[0,0],[5,0.8],[8,1.4],[12,1.5],[14,0.8],[16,0],[20,0.8],[24,0.8],[28,0.8],[29,5.9],[30,7.2],[32,7.8],[34,6.5],[35,2.7],[36,0.8],[40,0.8],[48,0.4],[53,0.8],[56,2.7],[58,2.3],[60,2],[62,1.1],[64,0.1],[65,2],[67,2],[68,4.3],[70,5.2],[73,5.9],[75,5.6],[78,4.6],[79,3.3],[81,0.8],[82,0],[86,0.8],[89,0.8],[92,1.4],[94,2.7],[96,2],[98,0.8],[102,1],[105,1.4],[109,1],[112,0.5],[117,0],[120,0]];

const alphaSeries: Record<string, Pt[]> = {
  Human: humanAlpha, Chimpanzee: aChimp, Orangutan: aOrangutan, Macaque: aMacaque, Rabbit: aRabbit, Mouse: aMouse,
  Rat: aRat, 'Naked mole rat': aNakedMoleRat, 'Ground squirrel': aGroundSquirrel, Cow: aCow, Yak: aYak,
  'Bactrian Camel': aCamel, Pig: aPig, Horse: aHorse, Panda: aPanda, Dog: aDog, Ferret: aFerret, Mink: aMink,
  Cat: aCat, 'Little brown bat': aBat, Elephant: aElephant, 'Tasmanian devil': aTasDevil, Opossum: aOpossum,
  Platypus: aPlatypus, Duck: aDuck, Chicken: aChicken, Turkey: aTurkey, 'Zebra finch': aZebraFinch,
  'Collared flycatcher': aFlycatcher, 'Softshell turtle': aSoftshell, Anole: aAnole, Cobra: aCobra,
  'African clawed frog': aXenLaevis, 'Western clawed frog': aXenTrop, 'Dwarf clawed frog': aDwarfFrog,
  'Chinese sturgeon': aSturgeon, 'Indian medaka': aMedaka, Ghostshark: aGhostshark, Lamprey: aLamprey,
};
const betaSeries: Record<string, Pt[]> = {
  Human: humanBeta, Chimpanzee: bChimp, Orangutan: bOrangutan, Rabbit: bRabbit, Mouse: bMouse, Rat: bRat,
  Cow: bCow, Yak: bYak, Horse: bHorse, Panda: bPanda, Dog: bDog, 'Little brown bat': bBat, Elephant: bElephant,
  'Tasmanian devil': bTasDevil, Opossum: bOpossum, Duck: bDuck, Chicken: bChicken, 'Softshell turtle': bSoftshell,
  Anole: bAnole, 'African clawed frog': bXenLaevis, 'Western clawed frog': bXenTrop, 'Dwarf clawed frog': bDwarfFrog,
  'Chinese sturgeon': bSturgeon, 'Indian medaka': bMedaka, Ghostshark: bGhostshark, Lamprey: bLamprey,
};
const gammaSeries: Record<string, Pt[]> = {
  Human: humanGamma, Chimpanzee: gChimp, Orangutan: gOrangutan, Gibbon: gGibbon, Macaque: gMacaque, Rabbit: gRabbit,
  Mouse: gMouse, Rat: gRat, Cow: gCow, Panda: gPanda, Dog: gDog, Ferret: gFerret, 'Tasmanian devil': gTasDevil,
  Opossum: gOpossum, Platypus: gPlatypus, Duck: gDuck, Chicken: gChicken, Turkey: gTurkey, 'Zebra finch': gZebraFinch,
  'Softshell turtle': gSoftshell, Anole: gAnole, 'African clawed frog': gXenLaevis, 'Western clawed frog': gXenTrop,
  'Dwarf clawed frog': gDwarfFrog, 'Chinese sturgeon': gSturgeon, 'Indian medaka': gMedaka, Silvercarp: gSilvercarp,
  Ghostshark: gGhostshark, Lamprey: gLamprey,
};

const combinedLabels = ['α-chain', 'β-chain', 'γ-chain'];
const combinedColors = ['#ff0000', '#228b44', '#1e8fff'];
const combinedMarkers = ['rect', 'circle', 'triangle'];
const combinedSeries = [humanAlpha, humanBeta, humanGamma];

const xTicksStep = 20;
const captionLines = [
  'The agadir predicted', 'helix content along', 'the coiled-coil region', 'of the three chains',
  'of human fibrinogen.', 'Residue numbers are', 'counted from the', 'first cysteine in the',
  'N-terminal disulfide', 'ring. For other species', 'see Appendix A.2.',
];

// ---------------- helpers ----------------
const SANS = '"Liberation Sans", Arial, Helvetica, sans-serif';

function makeSpeciesDatasets(series: Record<string, Pt[]>) {
  const out: any[] = [];
  for (let i = speciesNames.length - 1; i >= 0; i--) {
    const name = speciesNames[i];
    const pts = series[name];
    if (!pts) continue;
    const st = speciesMarkers[i];
    const isL = name === 'Lamprey';
    out.push({
      label: name,
      data: pts.map(([x, y]) => ({ x, y })),
      borderColor: speciesLineColors[i],
      backgroundColor: speciesColors[i],
      pointBackgroundColor: speciesColors[i],
      pointBorderColor: speciesColors[i],
      pointStyle: st === 'triangleDown' ? 'triangle' : st,
      rotation: st === 'triangleDown' ? 180 : 0,
      pointRadius: isL ? 2.3 : 1.6,
      pointBorderWidth: 1,
      borderWidth: isL ? 2.6 : 1.1,
      tension: 0,
    });
  }
  return out;
}

function makeCombinedDatasets() {
  return combinedSeries.map((pts, i) => ({
    label: combinedLabels[i],
    data: pts.map(([x, y]) => ({ x, y })),
    borderColor: combinedColors[i],
    backgroundColor: combinedColors[i],
    pointBackgroundColor: combinedColors[i],
    pointBorderColor: combinedColors[i],
    pointStyle: combinedMarkers[i],
    pointRadius: i === 1 ? 1.3 : 1.7,
    borderWidth: 1.2,
    tension: 0,
  }));
}

function patternFor(ctx: CanvasRenderingContext2D, kind: string) {
  const c = document.createElement('canvas');
  const g = c.getContext('2d')!;
  if (kind === 'dyndom') {
    c.width = 3; c.height = 3;
    g.fillStyle = '#f6f6f6'; g.fillRect(0, 0, 3, 3);
    g.fillStyle = '#d4d4d4';
    for (let i = 0; i < 3; i++) g.fillRect(i, 2 - i, 1, 1);
  } else {
    c.width = 2; c.height = 2;
    g.fillStyle = '#e2e2e2'; g.fillRect(0, 0, 2, 2);
    g.fillStyle = '#c0c0c0'; g.fillRect(0, 0, 1, 1); g.fillRect(1, 1, 1, 1);
  }
  return ctx.createPattern(c, 'repeat')!;
}

const hingePlugin = {
  id: 'hinge',
  beforeDatasetsDraw(chart: any, _a: any, opts: any) {
    const { ctx, chartArea: a, scales } = chart;
    ctx.save();
    if (opts && opts.dyndom) {
      const x0 = scales.x.getPixelForValue(opts.dyndom[0]);
      const x1 = scales.x.getPixelForValue(opts.dyndom[1]);
      ctx.fillStyle = patternFor(ctx, 'dyndom');
      ctx.fillRect(x0, a.top, x1 - x0, a.bottom - a.top);
    }
    if (opts && opts.doolittle) {
      const x0 = scales.x.getPixelForValue(opts.doolittle[0]);
      const x1 = scales.x.getPixelForValue(opts.doolittle[1]);
      ctx.fillStyle = patternFor(ctx, 'doolittle');
      ctx.fillRect(x0, a.top, x1 - x0, a.bottom - a.top);
    }
    // frame with inward ticks (gnuplot style)
    ctx.strokeStyle = '#8a8a8a';
    ctx.lineWidth = 1;
    ctx.strokeRect(Math.round(a.left) + 0.5, Math.round(a.top) + 0.5, Math.round(a.right - a.left) - 1, Math.round(a.bottom - a.top));
    const tl = 5;
    ctx.beginPath();
    scales.x.ticks.forEach((t: any) => {
      const px = Math.round(scales.x.getPixelForValue(t.value)) + 0.5;
      ctx.moveTo(px, a.bottom); ctx.lineTo(px, a.bottom - tl);
      ctx.moveTo(px, a.top); ctx.lineTo(px, a.top + tl);
    });
    scales.y.ticks.forEach((t: any) => {
      const py = Math.round(scales.y.getPixelForValue(t.value)) + 0.5;
      ctx.moveTo(a.left, py); ctx.lineTo(a.left + tl, py);
      ctx.moveTo(a.right, py); ctx.lineTo(a.right - tl, py);
    });
    ctx.stroke();
    ctx.restore();
  },
};

function panelConfig(p: any) {
  return {
    type: 'line',
    data: { datasets: p.datasets },
    plugins: [hingePlugin],
    options: {
      animation: false,
      responsive: false,
      maintainAspectRatio: false,
      layout: { padding: { left: 0, right: p.padRight, top: p.padTop, bottom: 0 } },
      plugins: {
        legend: { display: false },
        tooltip: { enabled: false },
        hinge: p.hinge || {},
      },
      scales: {
        x: {
          type: 'linear', min: 0, max: 120,
          grid: { display: false, drawTicks: false },
          border: { display: false },
          ticks: { stepSize: xTicksStep, color: '#000', padding: p.xTickPad, font: { family: SANS, size: p.tickSize }, maxRotation: 0, autoSkip: false },
          title: { display: true, text: 'Residue number', color: '#000', font: { family: SANS, size: p.xTitleSize }, padding: { top: 0, bottom: p.xTitlePad } },
          afterFit: (s: any) => { s.height = p.xHeight; },
        },
        y: {
          type: 'linear', min: 0, max: p.yMax,
          grid: { display: false, drawTicks: false },
          border: { display: false },
          afterBuildTicks: (s: any) => {
            const t: any[] = [];
            for (let v = 0; v <= p.yMax + 1e-9; v += p.yStep) t.push({ value: v });
            s.ticks = t;
          },
          ticks: { stepSize: p.yStep, color: '#000', padding: p.yTickPad, font: { family: SANS, size: p.tickSize } },
          title: { display: true, text: 'Helix Content [%]', color: '#000', font: { family: SANS, size: p.yTitleSize }, padding: { top: p.yTitlePad, bottom: 0 } },
          afterFit: (s: any) => { s.width = p.yWidth; },
        },
      },
    },
  };
}

function ChartBox({ left, top, width, height, canvasWidth, config }: any) {
  const ref = useRef<HTMLCanvasElement>(null);
  useEffect(() => {
    const chart = new Chart(ref.current as HTMLCanvasElement, config() as any);
    return () => chart.destroy();
  }, []);
  return (
    <div style={{ position: 'absolute', left, top, width, height, overflow: 'hidden', background: '#fff' }}>
      <canvas ref={ref} width={canvasWidth} height={height} style={{ display: 'block', width: canvasWidth, height }} />
    </div>
  );
}

function Marker({ shape, color, size = 6 }: any) {
  const base: any = { position: 'absolute', left: '50%', top: '50%' };
  if (shape === 'rect') return <div style={{ ...base, width: size, height: size, marginLeft: -size / 2, marginTop: -size / 2, background: color }} />;
  if (shape === 'circle') return <div style={{ ...base, width: size - 1, height: size - 1, marginLeft: -(size - 1) / 2, marginTop: -(size - 1) / 2, background: color, borderRadius: '50%' }} />;
  if (shape === 'rectRot') return <div style={{ ...base, width: 4, height: 4, marginLeft: -2, marginTop: -2, background: color, transform: 'rotate(45deg)' }} />;
  if (shape === 'triangle') return <div style={{ ...base, width: 0, height: 0, marginLeft: -4, marginTop: -4, borderLeft: '4px solid transparent', borderRight: '4px solid transparent', borderBottom: `6px solid ${color}` }} />;
  if (shape === 'triangleDown') return <div style={{ ...base, width: 0, height: 0, marginLeft: -4, marginTop: -2, borderLeft: '4px solid transparent', borderRight: '4px solid transparent', borderTop: `6px solid ${color}` }} />;
  if (shape === 'cross') return <div style={{ ...base, width: 2, height: 7, marginLeft: -1, marginTop: -3.5, background: color }} />;
  return (
    <div style={{ ...base, width: 7, height: 7, marginLeft: -3.5, marginTop: -3.5 }}>
      <div style={{ position: 'absolute', left: 3, top: -1, width: 1.5, height: 9, background: color, transform: 'rotate(45deg)' }} />
      <div style={{ position: 'absolute', left: 3, top: -1, width: 1.5, height: 9, background: color, transform: 'rotate(-45deg)' }} />
    </div>
  );
}

function LegendRow({ y, textRight, lineLeft, lineRight, label, lineColor, markerColor, shape, thick, swatch }: any) {
  return (
    <>
      <div style={{ position: 'absolute', left: textRight - 300, width: 300, top: y - 9, height: 18, lineHeight: '18px', textAlign: 'right', fontFamily: SANS, fontSize: 13.7, color: '#111', whiteSpace: 'nowrap' }}>{label}</div>
      {swatch ? (
        <div style={{ position: 'absolute', left: lineLeft, top: y - 4, width: lineRight - lineLeft, height: 8, background: swatch }} />
      ) : (
        <div style={{ position: 'absolute', left: lineLeft, top: y - 6, width: lineRight - lineLeft, height: 12 }}>
          <div style={{ position: 'absolute', left: 0, right: 0, top: thick ? 5 : 5.5, height: thick ? 2 : 1.5, background: lineColor }} />
          <Marker shape={shape} color={markerColor} />
        </div>
      )}
    </>
  );
}

export default function App() {
  const col1 = ['hinge region, Dyndom', 'hinge region, Doolittle', ...speciesNames.slice(0, 23)];
  const col2 = speciesNames.slice(23);
  const rowStep = 15.08;
  const dyndomSwatch = 'repeating-linear-gradient(135deg, #d2d2d2 0px, #d2d2d2 1px, #f5f5f5 1px, #f5f5f5 3px)';
  const dooSwatch = 'repeating-conic-gradient(#bcbcbc 0% 25%, #e0e0e0 0% 50%) 0 0 / 2px 2px';

  return (
    <div style={{ position: 'absolute', left: 0, top: 0, width: 1249, height: 704, background: '#fff', overflow: 'hidden' }}>
      {/* alpha */}
      <ChartBox left={0} top={0} width={407} height={300} canvasWidth={430}
        config={() => panelConfig({ datasets: makeSpeciesDatasets(alphaSeries), yMax: 100, yStep: 25, yWidth: 72, xHeight: 63, padTop: 16, padRight: 22, tickSize: 19.5, xTitleSize: 18, yTitleSize: 17.5, yTitlePad: 11, yTickPad: 4, xTickPad: 8, xTitlePad: 6, hinge: { dyndom: alphaHingeDyndom, doolittle: alphaHingeDoolittle } })} />
      {/* beta */}
      <ChartBox left={407} top={0} width={433} height={300} canvasWidth={433}
        config={() => panelConfig({ datasets: makeSpeciesDatasets(betaSeries), yMax: 35, yStep: 10, yWidth: 57, xHeight: 63, padTop: 16, padRight: 32, tickSize: 19.5, xTitleSize: 18, yTitleSize: 17.5, yTitlePad: 1, yTickPad: 19, xTickPad: 8, xTitlePad: 6, hinge: { dyndom: betaHingeDyndom, doolittle: betaHingeDoolittle } })} />
      {/* combined */}
      <ChartBox left={845} top={0} width={404} height={310} canvasWidth={404}
        config={() => panelConfig({ datasets: makeCombinedDatasets(), yMax: 40, yStep: 10, yWidth: 58, xHeight: 62, padTop: 28, padRight: 31, tickSize: 17.5, xTitleSize: 16, yTitleSize: 15, yTitlePad: 9, yTickPad: 11, xTickPad: 8, xTitlePad: 13, hinge: {} })} />
      {/* gamma */}
      <ChartBox left={0} top={370} width={407} height={310} canvasWidth={430}
        config={() => panelConfig({ datasets: makeSpeciesDatasets(gammaSeries), yMax: 85, yStep: 20, yWidth: 62, xHeight: 65, padTop: 23, padRight: 22, tickSize: 19.5, xTitleSize: 18, yTitleSize: 17.5, yTitlePad: 6, yTickPad: 12, xTickPad: 8, xTitlePad: 11, hinge: { dyndom: gammaHingeDyndom, doolittle: gammaHingeDoolittle } })} />

      {/* panel labels */}
      <div style={{ position: 'absolute', left: 81, top: 18, fontFamily: SANS, fontSize: 18, lineHeight: '22px' }}>α-Chain</div>
      <div style={{ position: 'absolute', left: 473, top: 19, fontFamily: SANS, fontSize: 18, lineHeight: '22px' }}>β-Chain</div>
      <div style={{ position: 'absolute', left: 71, top: 399, fontFamily: SANS, fontSize: 18, lineHeight: '22px' }}>γ-Chain</div>

      {/* combined legend */}
      {combinedLabels.map((lab, i) => (
        <React.Fragment key={lab}>
          <div style={{ position: 'absolute', left: 880, width: 100, top: [27, 44, 63][i], height: 18, lineHeight: '18px', textAlign: 'right', fontFamily: SANS, fontSize: 16 }}>{lab}</div>
          <div style={{ position: 'absolute', left: 990, top: [34, 51.5, 69.5][i], width: 43, height: 12 }}>
            <div style={{ position: 'absolute', left: 0, right: 0, top: 5.5, height: 1.5, background: combinedColors[i] }} />
            <Marker shape={combinedMarkers[i]} color={combinedColors[i]} size={i === 1 ? 4 : 6} />
          </div>
        </React.Fragment>
      ))}

      {/* species legend */}
      {col1.map((lab, i) => {
        const si = i - 2;
        return (
          <LegendRow key={'c1' + i} y={335 + rowStep * i} textRight={544} lineLeft={553} lineRight={592} label={lab}
            swatch={i === 0 ? dyndomSwatch : i === 1 ? dooSwatch : undefined}
            lineColor={si >= 0 ? speciesLineColors[si] : undefined} markerColor={si >= 0 ? speciesColors[si] : undefined}
            shape={si >= 0 ? speciesMarkers[si] : undefined} />
        );
      })}
      {col2.map((lab, i) => {
        const si = i + 23;
        return (
          <LegendRow key={'c2' + i} y={335 + rowStep * i} textRight={788} lineLeft={797} lineRight={836} label={lab}
            lineColor={speciesLineColors[si]} markerColor={speciesColors[si]} shape={speciesMarkers[si]} thick={lab === 'Lamprey'} />
        );
      })}

      {/* caption */}
      <div style={{ position: 'absolute', left: 851, top: 355, fontFamily: '"DejaVu Serif", serif', fontSize: 20, lineHeight: '29.3px', color: '#000', whiteSpace: 'nowrap' }}>Figure 29:</div>
      {captionLines.map((ln, i) => (
        <div key={i} style={{ position: 'absolute', left: 977, top: 355 + 29.3 * i, width: 234, fontFamily: '"DejaVu Serif", serif', fontSize: 20, lineHeight: '29.3px', color: '#000', textAlign: i === captionLines.length - 1 ? 'left' : 'justify', textAlignLast: i === captionLines.length - 1 ? 'left' : 'justify', whiteSpace: 'nowrap' } as any}>{ln}</div>
      ))}
    </div>
  );
}
